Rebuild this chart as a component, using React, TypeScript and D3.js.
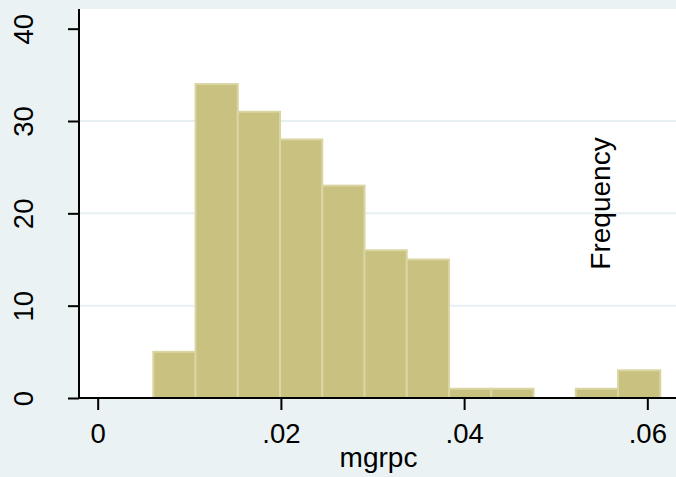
// Stata-style histogram of mgrpc, redrawn with D3 scales + React SVG
import * as d3 from "d3";
import { useRef, useEffect } from "react";

// histogram bins (12 bins)
const binStart = 0.00607;
const binWidth = 0.004612;
const counts = [5, 34, 31, 28, 23, 16, 15, 1, 1, 0, 1, 3];

// axis ticks
const xTicks = [0, 0.02, 0.04, 0.06];
const xTickLabels = ["0", ".02", ".04", ".06"];
const yTicks = [0, 10, 20, 30, 40];
const yGridTicks = [10, 20, 30];

const xTitle = "mgrpc";
const yTitle = "Frequency";

export default function App() {
  const svgRef = useRef<SVGSVGElement>(null);

  const width = 676;
  const height = 477;
  const plot = { left: 79, right: 676, top: 9, bottom: 398 };
  const font = "'Liberation Sans', Arial, sans-serif";

  const xScale = d3
    .scaleLinear()
    .domain([-0.00204, 0.06313])
    .range([plot.left, plot.right]);

  const yScale = d3
    .scaleLinear()
    .domain([0, 42.13])
    .range([plot.bottom, plot.top]);

  const bins = counts.map((c, i) => ({
    x0: binStart + i * binWidth,
    x1: binStart + (i + 1) * binWidth,
    count: c,
  }));

  // axes drawn by d3
  useEffect(() => {
    const svg = d3.select(svgRef.current);

    const xAxis = svg
      .select<SVGGElement>(".x-axis")
      .attr("transform", `translate(0,${plot.bottom})`)
      .call(
        d3
          .axisBottom(xScale)
          .tickValues(xTicks)
          .tickFormat((_, i) => xTickLabels[i])
          .tickSize(12)
          .tickPadding(13)
      );
    xAxis.select(".domain").attr("d", `M${plot.left},0H${plot.right}`);
    xAxis.selectAll("line").attr("stroke-width", 2);
    xAxis
      .selectAll("text")
      .attr("font-size", 27.5)
      .attr("font-family", font)
      .attr("fill", "#000");

    const yAxis = svg
      .select<SVGGElement>(".y-axis")
      .attr("transform", `translate(${plot.left},0)`)
      .call(
        d3
          .axisLeft(yScale)
          .tickValues(yTicks)
          .tickFormat(d3.format("d"))
          .tickSize(11)
      );
    yAxis.select(".domain").attr("d", `M0,${plot.top}V${plot.bottom}`);
    yAxis.selectAll("line").attr("stroke-width", 2);
    yAxis
      .selectAll("text")
      .attr("x", null)
      .attr("dy", null)
      .attr("text-anchor", "middle")
      .attr("transform", "translate(-46,0) rotate(-90)")
      .attr("font-size", 27.5)
      .attr("font-family", font)
      .attr("fill", "#000");

    svg.selectAll(".domain").attr("stroke-width", 2).attr("stroke", "#000");
  }, []);

  return (
    <svg
      ref={svgRef}
      width={width}
      height={height}
      style={{ position: "absolute", left: 0, top: 0 }}
    >
      <rect width={width} height={height} fill="#eaf2f3" />
      <rect
        x={plot.left}
        y={plot.top}
        width={plot.right - plot.left}
        height={plot.bottom - plot.top}
        fill="#fff"
      />

      {/* gridlines */}
      {yGridTicks.map((t) => (
        <line
          key={t}
          x1={plot.left}
          x2={plot.right}
          y1={yScale(t)}
          y2={yScale(t)}
          stroke="#e6eff1"
          strokeWidth={2}
        />
      ))}

      {/* bars */}
      {bins
        .filter((b) => b.count > 0)
        .map((b, i) => (
          <rect
            key={i}
            x={xScale(b.x0)}
            y={yScale(b.count)}
            width={xScale(b.x1) - xScale(b.x0)}
            height={plot.bottom - yScale(b.count)}
            fill="#c8c17f"
            stroke="#dad5a2"
            strokeWidth={2}
          />
        ))}

      {/* titles */}
      <text
        transform={`translate(610,203.5) rotate(-90)`}
        textAnchor="middle"
        fontSize={28}
        fontFamily={font}
      >
        {yTitle}
      </text>
      <text
        x={(plot.left + plot.right) / 2 + 1}
        y={467}
        textAnchor="middle"
        fontSize={28}
        fontFamily={font}
      >
        {xTitle}
      </text>

      <g className="x-axis" />
      <g className="y-axis" />
    </svg>
  );
}
